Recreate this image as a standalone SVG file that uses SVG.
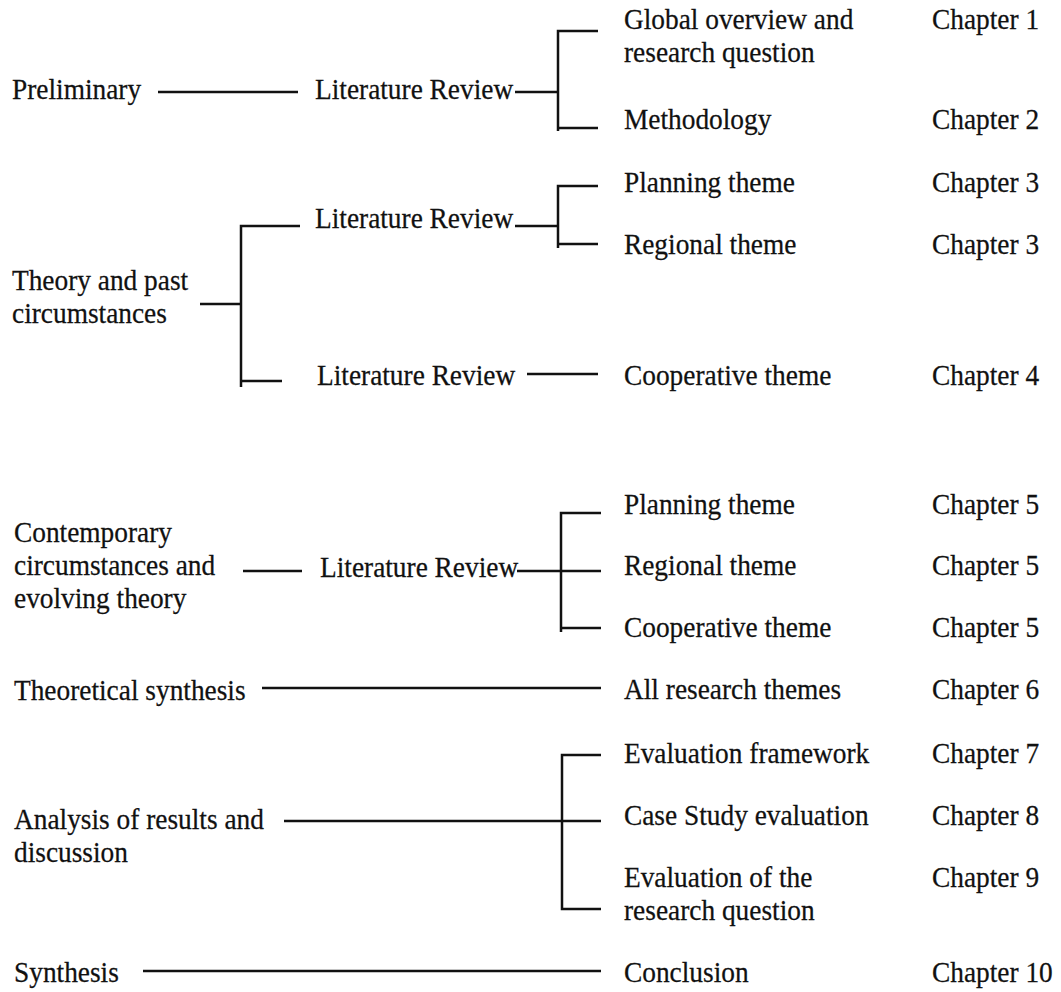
<svg xmlns="http://www.w3.org/2000/svg" width="1061" height="992" viewBox="0 0 1061 992">
  <style>
    .t {
      font-family: "Liberation Serif", "Times New Roman", serif;
      font-size: 28.5px;
      fill: #111;
      stroke: #111;
      stroke-width: 0.25;
      transform-box: fill-box;
      transform-origin: 0 50%;
      transform: scaleX(0.96);
    }
    .c { fill: none; stroke: #111; stroke-width: 2.5; }
  </style>
  <rect width="1061" height="992" fill="#fff"/>

  <!-- connectors -->
  <g id="connectors" class="c">
    <!-- Preliminary -->
    <path d="M158 92 H298"/>
    <path d="M515 92 H558"/>
    <path d="M598 31 H558 V131"/>
    <path d="M558 128 H598"/>
    <!-- Theory and past circumstances -->
    <path d="M200 304 H241"/>
    <path d="M300 226 H241 V387"/>
    <path d="M241 381 H282"/>
    <path d="M515 226 H558"/>
    <path d="M598 186 H558 V248"/>
    <path d="M558 244 H598"/>
    <path d="M527 374 H598"/>
    <!-- Contemporary circumstances -->
    <path d="M243 571 H302"/>
    <path d="M517 571 H601"/>
    <path d="M601 513 H561 V632"/>
    <path d="M561 628 H601"/>
    <!-- Theoretical synthesis -->
    <path d="M262 688 H601"/>
    <!-- Analysis of results -->
    <path d="M284 821 H601"/>
    <path d="M601 755 H562 V909 H601"/>
    <!-- Synthesis -->
    <path d="M143 971 H601"/>
  </g>

  <!-- phases -->
  <g id="phase-preliminary"><text class="t" x="12" y="99">Preliminary</text></g>
  <g id="phase-theory">
    <text class="t" x="12" y="290">Theory and past</text>
    <text class="t" x="12" y="323">circumstances</text>
  </g>
  <g id="phase-contemporary">
    <text class="t" x="14" y="542">Contemporary</text>
    <text class="t" x="14" y="575">circumstances and</text>
    <text class="t" x="14" y="608">evolving theory</text>
  </g>
  <g id="phase-theoretical-synthesis"><text class="t" x="14" y="700">Theoretical synthesis</text></g>
  <g id="phase-analysis">
    <text class="t" x="14" y="829">Analysis of results and</text>
    <text class="t" x="14" y="862">discussion</text>
  </g>
  <g id="phase-synthesis"><text class="t" x="14" y="982">Synthesis</text></g>

  <!-- literature reviews -->
  <g id="lit-review-1"><text class="t" x="315" y="99">Literature Review</text></g>
  <g id="lit-review-2"><text class="t" x="315" y="228">Literature Review</text></g>
  <g id="lit-review-3"><text class="t" x="317" y="385">Literature Review</text></g>
  <g id="lit-review-4"><text class="t" x="320" y="577">Literature Review</text></g>

  <!-- topics -->
  <g id="topic-global">
    <text class="t" x="624" y="29">Global overview and</text>
    <text class="t" x="624" y="62">research question</text>
  </g>
  <g id="topic-methodology"><text class="t" x="624" y="129">Methodology</text></g>
  <g id="topic-planning-1"><text class="t" x="624" y="192">Planning theme</text></g>
  <g id="topic-regional-1"><text class="t" x="624" y="254">Regional theme</text></g>
  <g id="topic-cooperative-1"><text class="t" x="624" y="385">Cooperative theme</text></g>
  <g id="topic-planning-2"><text class="t" x="624" y="514">Planning theme</text></g>
  <g id="topic-regional-2"><text class="t" x="624" y="575">Regional theme</text></g>
  <g id="topic-cooperative-2"><text class="t" x="624" y="637">Cooperative theme</text></g>
  <g id="topic-all-themes"><text class="t" x="624" y="699">All research themes</text></g>
  <g id="topic-eval-framework"><text class="t" x="624" y="763">Evaluation framework</text></g>
  <g id="topic-case-study"><text class="t" x="624" y="825">Case Study evaluation</text></g>
  <g id="topic-eval-question">
    <text class="t" x="624" y="887">Evaluation of the</text>
    <text class="t" x="624" y="920">research question</text>
  </g>
  <g id="topic-conclusion"><text class="t" x="624" y="982">Conclusion</text></g>

  <!-- chapters -->
  <g id="chapters">
    <text class="t" x="932" y="29">Chapter 1</text>
    <text class="t" x="932" y="129">Chapter 2</text>
    <text class="t" x="932" y="192">Chapter 3</text>
    <text class="t" x="932" y="254">Chapter 3</text>
    <text class="t" x="932" y="385">Chapter 4</text>
    <text class="t" x="932" y="514">Chapter 5</text>
    <text class="t" x="932" y="575">Chapter 5</text>
    <text class="t" x="932" y="637">Chapter 5</text>
    <text class="t" x="932" y="699">Chapter 6</text>
    <text class="t" x="932" y="763">Chapter 7</text>
    <text class="t" x="932" y="825">Chapter 8</text>
    <text class="t" x="932" y="887">Chapter 9</text>
    <text class="t" x="932" y="982">Chapter 10</text>
  </g>
</svg>
